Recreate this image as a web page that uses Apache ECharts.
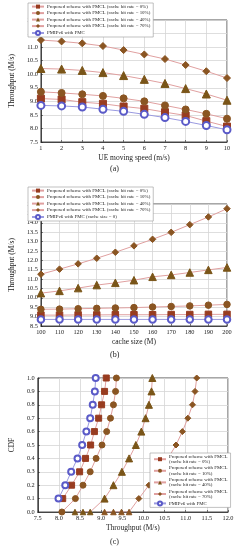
<!DOCTYPE html>
<html><head><meta charset="utf-8">
<script src="https://cdn.jsdelivr.net/npm/echarts@6/dist/echarts.min.js"></script>
<style>html,body{margin:0;padding:0;background:#fff}#c{width:240px;height:550px}</style>
</head><body><div id="c"></div>
<script>
// ---- (a) throughput vs UE moving speed ----
const speed = [1,2,3,4,5,6,7,8,9,10];
const a0  = [9.10, 9.07, 8.97, 8.91, 8.81, 8.73, 8.60, 8.48, 8.27, 8.07];
const a10 = [9.35, 9.31, 9.26, 9.20, 9.11, 9.00, 8.85, 8.70, 8.54, 8.36];
const a40 = [10.21, 10.19, 10.14, 10.06, 9.95, 9.81, 9.66, 9.47, 9.27, 9.04];
const a70 = [11.26, 11.21, 11.14, 11.04, 10.89, 10.73, 10.56, 10.34, 10.11, 9.86];
const aP  = [8.85, 8.83, 8.79, 8.71, 8.63, 8.52, 8.40, 8.26, 8.11, 7.95];
// ---- (b) throughput vs cache size ----
const cache = [100,110,120,130,140,150,160,170,180,190,200];
const b0  = [9.08, 9.08, 9.09, 9.09, 9.10, 9.10, 9.10, 9.11, 9.11, 9.12, 9.12];
const b10 = [9.39, 9.40, 9.42, 9.44, 9.46, 9.48, 9.51, 9.54, 9.57, 9.61, 9.65];
const b40 = [10.25, 10.37, 10.52, 10.68, 10.80, 10.94, 11.12, 11.22, 11.35, 11.49, 11.62];
const b70 = [11.26, 11.53, 11.81, 12.11, 12.43, 12.77, 13.12, 13.49, 13.90, 14.31, 14.75];
const bP  = [8.85, 8.85, 8.85, 8.85, 8.85, 8.85, 8.85, 8.85, 8.85, 8.85, 8.85];
// ---- (c) CDF of throughput ----
const c0x  = [8.09, 8.30, 8.49, 8.63, 8.75, 8.84, 8.94, 9.01, 9.08, 9.12];
const c0y  = [0.1, 0.2, 0.3, 0.4, 0.5, 0.6, 0.7, 0.8, 0.9, 1.0];
const c10x = [8.07, 8.39, 8.57, 8.74, 8.88, 9.02, 9.13, 9.22, 9.29, 9.34, 9.36];
const c10y = [0.0, 0.1, 0.2, 0.3, 0.4, 0.5, 0.6, 0.7, 0.8, 0.9, 1.0];
const c40x = [8.38, 8.57, 8.74, 9.08, 9.29, 9.49, 9.66, 9.82, 9.95, 10.05, 10.13, 10.19, 10.21];
const c40y = [0.0, 0.0, 0.0, 0.1, 0.2, 0.3, 0.4, 0.5, 0.6, 0.7, 0.8, 0.9, 1.0];
const c70x = [9.08, 9.29, 9.48, 9.66, 9.89, 10.13, 10.36, 10.58, 10.77, 10.92, 11.05, 11.16, 11.22, 11.26];
const c70y = [0.0, 0.0, 0.0, 0.0, 0.1, 0.2, 0.3, 0.4, 0.5, 0.6, 0.7, 0.8, 0.9, 1.0];
const cPx  = [7.99, 8.15, 8.29, 8.44, 8.55, 8.65, 8.74, 8.80, 8.85, 8.87];
const cPy  = [0.1, 0.2, 0.3, 0.4, 0.5, 0.6, 0.7, 0.8, 0.9, 1.0];

const names = [
  'Proposed scheme with FMCL (cache hit rate = 0%)',
  'Proposed scheme with FMCL (cache hit rate = 10%)',
  'Proposed scheme with FMCL (cache hit rate = 40%)',
  'Proposed scheme with FMCL (cache hit rate = 70%)'
];
const namesC = [
  'Proposed scheme with FMCL\n(cache hit rate = 0%)',
  'Proposed scheme with FMCL\n(cache hit rate = 10%)',
  'Proposed scheme with FMCL\n(cache hit rate = 40%)',
  'Proposed scheme with FMCL\n(cache hit rate = 70%)'
];
const nameAP = 'PMIPv6 with FMC';
const nameBP = 'PMIPv6 with FMC (cache size = 0)';
const nameCP = 'PMIPv6 with FMC ';

const FONT = '"Liberation Serif", "DejaVu Serif", serif';
const BROWN = '#8a5522';
const SQ = '#983c20';
const LINE = '#e0a0a0';
const BLUE = '#5a5ac8';
const BLUEL = '#9a9ae0';
const symbols = ['rect', 'circle', 'triangle', 'diamond'];
const mcol = [SQ, BROWN, '#7a5518', BROWN];

function zip(x, y) { return x.map((v, i) => [v, y[i]]); }

function propSeries(name, data, k, gi, sz) {
  return {
    type: 'line', name: name, xAxisIndex: gi, yAxisIndex: gi,
    data: data, symbol: symbols[k], symbolSize: k === 2 ? sz + 1 : sz,
    itemStyle: { color: mcol[k], borderColor: mcol[k] },
    lineStyle: { color: LINE, width: 1 }, z: 3
  };
}
function pSeries(name, data, gi, sz) {
  return {
    type: 'line', name: name, xAxisIndex: gi, yAxisIndex: gi,
    data: data, symbol: 'emptyCircle', symbolSize: sz,
    itemStyle: { color: BLUE, borderColor: BLUE, borderWidth: 0.8 },
    lineStyle: { color: BLUEL, width: 1 }, z: 3
  };
}

const axisLabel = { fontFamily: FONT, fontSize: 6.3, color: '#222', margin: 3 };
const splitLine = { show: true, lineStyle: { color: '#d6d6d6', width: 0.8 } };
const axisLine = { show: true, onZero: false, lineStyle: { color: '#222', width: 0.8 } };
const axisTick = { show: true, inside: true, length: 2, lineStyle: { color: '#222', width: 0.6 } };
const nameStyle = { fontFamily: FONT, fontSize: 7.5, color: '#222' };

function xA(gi, min, max, interval, name, fmt) {
  return { type: 'value', gridIndex: gi, min, max, interval, name, nameLocation: 'middle', nameGap: 12,
    nameTextStyle: nameStyle, axisLabel: Object.assign({ formatter: fmt }, axisLabel),
    splitLine, axisLine, axisTick };
}
function yA(gi, min, max, interval, name, gap, fmt) {
  return { type: 'value', gridIndex: gi, min, max, interval, name, nameLocation: 'middle', nameGap: gap,
    nameRotate: 90, nameTextStyle: nameStyle, axisLabel: Object.assign({ formatter: fmt }, axisLabel),
    splitLine, axisLine, axisTick };
}
const f1 = v => v.toFixed(1);
const f0 = v => String(v);

const legendBase = {
  orient: 'vertical', backgroundColor: '#fff', borderColor: '#999', borderWidth: 0.6,
  padding: [1, 3, 1, 3], itemWidth: 12, itemHeight: 5, itemGap: 1.3,
  textStyle: { fontFamily: FONT, fontSize: 4.9, color: '#222', lineHeight: 5.2, padding: [0, 0, 0, -2] },
  selectedMode: false
};

const series = [];
names.forEach((n, k) => series.push(propSeries(n, zip(speed, [a0, a10, a40, a70][k]), k, 0, 7)));
series.push(pSeries(nameAP, zip(speed, aP), 0, 7));
names.forEach((n, k) => series.push(propSeries(n, zip(cache, [b0, b10, b40, b70][k]), k, 1, 6.5)));
series.push(pSeries(nameBP, zip(cache, bP), 1, 6.5));
const cxs = [c0x, c10x, c40x, c70x], cys = [c0y, c10y, c40y, c70y];
namesC.forEach((n, k) => {
  let d = zip(cxs[k], cys[k]);
  if (k === 3) d = d.map(p => p[1] === 0 ? { value: p, symbol: 'triangle', symbolSize: 5.5 } : p);
  if (k === 2) d = d.map(p => p[1] === 0 ? { value: p, symbolSize: 5.5 } : p);
  series.push(propSeries(n, d, k, 2, 6));
});
series.push(pSeries(nameCP, zip(cPx, cPy), 2, 6));

const option = {
  animation: false,
  backgroundColor: '#fff',
  textStyle: { fontFamily: FONT },
  grid: [
    { left: 29, top: 20, width: 198, height: 122, show: true, borderColor: '#222', borderWidth: 0.8 },
    { left: 28, top: 204, width: 199, height: 122, show: true, borderColor: '#222', borderWidth: 0.8 },
    { left: 24, top: 378, width: 204, height: 134, show: true, borderColor: '#222', borderWidth: 0.8 }
  ],
  xAxis: [
    xA(0, 1, 10, 1, 'UE moving speed (m/s)', f0),
    xA(1, 100, 200, 10, 'cache size (M)', f0),
    xA(2, 7.5, 12.0, 0.5, 'Throughput (M/s)', f1)
  ],
  yAxis: [
    yA(0, 7.5, 12.0, 0.5, 'Throughput (M/s)', 17, f1),
    yA(1, 8.5, 15.0, 0.5, 'Throughput (M/s)', 17, f1),
    yA(2, 0, 1.0, 0.1, 'CDF', 12, f1)
  ],
  legend: [
    Object.assign({}, legendBase, { left: 28, top: 3, data: names.concat([nameAP]) }),
    Object.assign({}, legendBase, { left: 28, top: 187, data: names.concat([nameBP]) }),
    Object.assign({}, legendBase, { left: 150, top: 453, itemGap: 1.2, data: namesC.concat([nameCP]) })
  ],
  graphic: [
    { type: 'text', left: 110, top: 165, style: { text: '(a)', font: '8px ' + FONT, fill: '#222' } },
    { type: 'text', left: 110, top: 351, style: { text: '(b)', font: '8px ' + FONT, fill: '#222' } },
    { type: 'text', left: 110, top: 538, style: { text: '(c)', font: '8px ' + FONT, fill: '#222' } }
  ],
  series
};
const chart = echarts.init(document.getElementById('c'), null, { renderer: 'canvas' });
chart.setOption(option);
</script></body></html>
